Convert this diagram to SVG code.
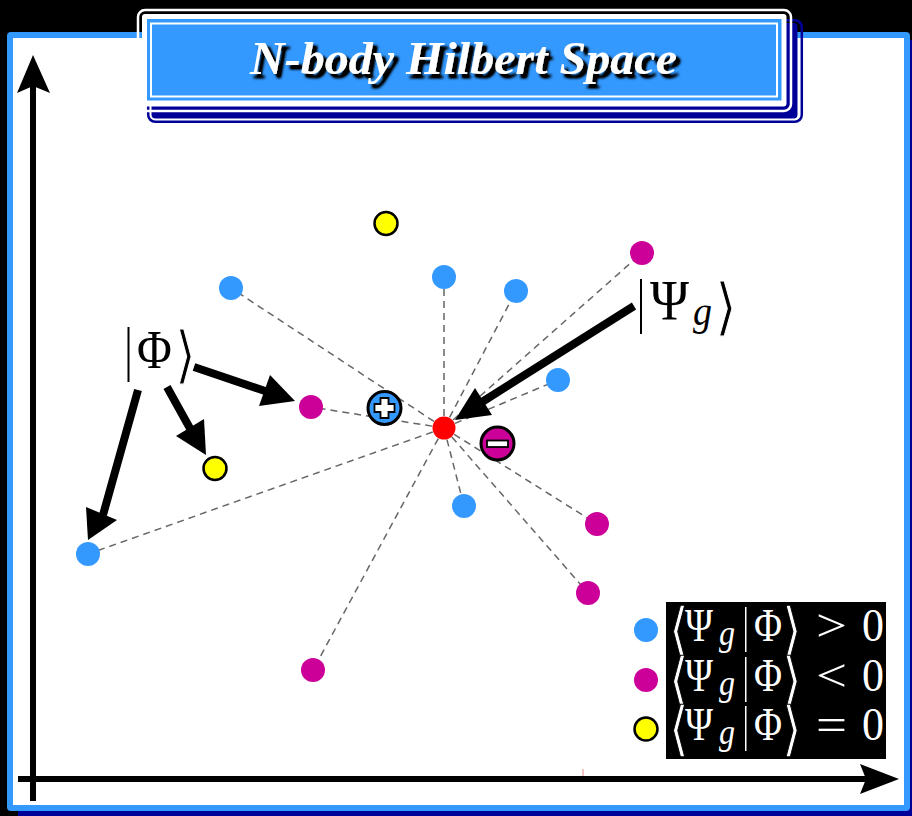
<svg xmlns="http://www.w3.org/2000/svg" width="912" height="816" viewBox="0 0 912 816">
<style>
.blue{fill:#3399ff}.mag{fill:#cc0099}.yel{fill:#ffff00;stroke:#000;stroke-width:2.5}
.dash{stroke:#666;stroke-width:1.5;stroke-dasharray:7 5;fill:none}
.shaft{stroke:#000;fill:none}
.m{font-family:"Liberation Serif",serif;font-size:46px;fill:#000}
.w{fill:#fff}
.i{font-style:italic;font-size:36px}
.b{font-family:"DejaVu Sans",sans-serif;font-weight:200;font-size:56px;stroke:#fff;stroke-width:1}
.w.b{stroke:#000}
.title{font-family:"Liberation Serif",serif;font-weight:bold;font-style:italic;font-size:47px}
</style>
<defs>
<filter id="sh" x="-5%" y="-30%" width="110%" height="170%">
<feGaussianBlur in="SourceAlpha" stdDeviation="1.5" result="b"/>
<feOffset in="b" dx="3.500" dy="3.500" result="o"/>
<feComponentTransfer in="o" result="d"><feFuncA type="linear" slope="1.6"/></feComponentTransfer>
<feMerge><feMergeNode in="d"/><feMergeNode in="SourceGraphic"/></feMerge>
</filter>
<g id="legendmath">
<text class="m b w" transform="translate(669 650) scale(0.9 1.05)">⟨</text>
<text class="m w" x="685" y="641" textLength="28" lengthAdjust="spacingAndGlyphs">Ψ</text>
<text class="m i w" x="719" y="645" textLength="16" lengthAdjust="spacingAndGlyphs">g</text>
<rect x="745" y="607" width="1.5" height="45" class="w"/>
<text class="m w" x="754" y="641" textLength="28" lengthAdjust="spacingAndGlyphs">Φ</text>
<text class="m b w" transform="translate(782 650) scale(0.9 1.05)">⟩</text>
</g>
</defs>
<rect width="912" height="816" fill="#000"/>
<g id="frame">
<rect x="18" y="40" width="894" height="776" fill="#000099"/>
<rect x="7" y="32" width="903" height="779" rx="4" fill="#3399ff"/>
<rect x="13" y="38" width="891" height="767" fill="#fff"/>
</g>
<g id="title">
<rect x="148.200" y="20.200" width="653.600" height="101.600" rx="7" fill="none" stroke="#000099" stroke-width="2.500"/>
<rect x="151.500" y="23" width="646" height="95.500" rx="4" fill="#000099"/>
<rect x="138" y="10" width="653" height="101" rx="7" fill="none" stroke="#fff" stroke-width="2.500"/>
<rect x="142" y="14" width="644.500" height="92.500" rx="3" fill="#fff"/>
<rect x="147" y="19" width="634.500" height="81.500" fill="#3399ff"/>
<rect x="151" y="23.500" width="626" height="73" fill="#3399ff" stroke="#fff" stroke-width="2"/>
<text class="title" x="250" y="74" fill="#fff" filter="url(#sh)" textLength="427" lengthAdjust="spacingAndGlyphs">N-body Hilbert Space</text>
</g>
<g id="connectors">
<path class="dash" d="M444 428L231 288M444 428L444 277M444 428L516 291M444 428L642 253M444 428L558 380M444 428L311 407M444 428L88 554M444 428L313 670M444 428L464 506M444 428L597 524M444 428L588 593"/>
<g id="axes">
<path class="shaft" stroke-width="6" d="M33 801V85M18 779H868"/>
<path d="M33 55L50 93L33 86L17 93Z"/>
<path d="M899 779L860 764L866 779L860 794Z"/>
<path d="M583 769V776" stroke="#e88" stroke-width="1"/>
</g>
<path class="shaft" stroke-width="8" d="M634 306L482 402M194 367L268 392M167 387L192 432M138 390L103 515"/>
<path d="M455 420L475 388L492 415Z"/>
<path d="M295 401L270 375L259 406Z"/>
<path d="M206 455L204 419L176 436Z"/>
<path d="M88 540L117 520L86 507Z"/>
</g>
<g id="node-center"><circle cx="444" cy="428" r="11.500" fill="#f00"/></g>
<g id="node-y1"><circle class="yel" cx="386" cy="223.500" r="11.500"/></g>
<g id="node-y2"><circle class="yel" cx="215" cy="468.500" r="11.500"/></g>
<g id="node-b1"><circle class="blue" cx="231" cy="288" r="12"/></g>
<g id="node-b2"><circle class="blue" cx="444" cy="277" r="12"/></g>
<g id="node-b3"><circle class="blue" cx="516" cy="291" r="12"/></g>
<g id="node-b4"><circle class="blue" cx="558" cy="380" r="12"/></g>
<g id="node-b5"><circle class="blue" cx="464" cy="506" r="12"/></g>
<g id="node-b6"><circle class="blue" cx="88" cy="554" r="12"/></g>
<g id="node-m1"><circle class="mag" cx="642" cy="253" r="12"/></g>
<g id="node-m2"><circle class="mag" cx="311" cy="407" r="12"/></g>
<g id="node-m3"><circle class="mag" cx="597" cy="524" r="12"/></g>
<g id="node-m4"><circle class="mag" cx="588" cy="593" r="12"/></g>
<g id="node-m5"><circle class="mag" cx="313" cy="670" r="12"/></g>
<g id="node-plus">
<circle cx="384.500" cy="408" r="16.500" fill="#3399ff" stroke="#000" stroke-width="3"/>
<path d="M380.500 398H388.500V404H394.500V412H388.500V418H380.500V412H374.500V404H380.500Z" fill="#fff" stroke="#000" stroke-width="1.800"/>
</g>
<g id="node-minus">
<circle cx="497.500" cy="443.500" r="16.500" fill="#cc0099" stroke="#000" stroke-width="3"/>
<rect x="487" y="440.500" width="21" height="6.500" fill="#fff" stroke="#000" stroke-width="1.800"/>
</g>
<g id="label-phi">
<rect x="127.500" y="327" width="2" height="55"/>
<text class="m" transform="translate(137 368) scale(0.85 1)" style="font-size:56px">Φ</text>
<text class="m b" transform="translate(175 376) scale(0.95 1.1)">⟩</text>
</g>
<g id="label-psi">
<rect x="640" y="279" width="2" height="55"/>
<text class="m" x="650" y="320" style="font-size:56px" textLength="39" lengthAdjust="spacingAndGlyphs">Ψ</text>
<text class="m i" x="693" y="325" style="font-size:42px" textLength="19" lengthAdjust="spacingAndGlyphs">g</text>
<text class="m b" transform="translate(715 328) scale(1 1.1)">⟩</text>
</g>
<g id="legend">
<rect x="666" y="602" width="220" height="157" fill="#000"/>
<circle class="blue" cx="646" cy="630" r="12"/>
<circle class="mag" cx="646" cy="680" r="12"/>
<circle class="yel" cx="646" cy="729" r="11.500"/>
<use href="#legendmath"/>
<use href="#legendmath" y="50"/>
<use href="#legendmath" y="99"/>
<text class="m w" x="816" y="641" textLength="31" lengthAdjust="spacingAndGlyphs">&gt;</text>
<text class="m w" x="862" y="641" textLength="22" lengthAdjust="spacingAndGlyphs">0</text>
<text class="m w" x="816" y="691" textLength="31" lengthAdjust="spacingAndGlyphs">&lt;</text>
<text class="m w" x="862" y="691" textLength="22" lengthAdjust="spacingAndGlyphs">0</text>
<text class="m w" x="816" y="740" textLength="31" lengthAdjust="spacingAndGlyphs">=</text>
<text class="m w" x="862" y="740" textLength="22" lengthAdjust="spacingAndGlyphs">0</text>
</g>
</svg>
